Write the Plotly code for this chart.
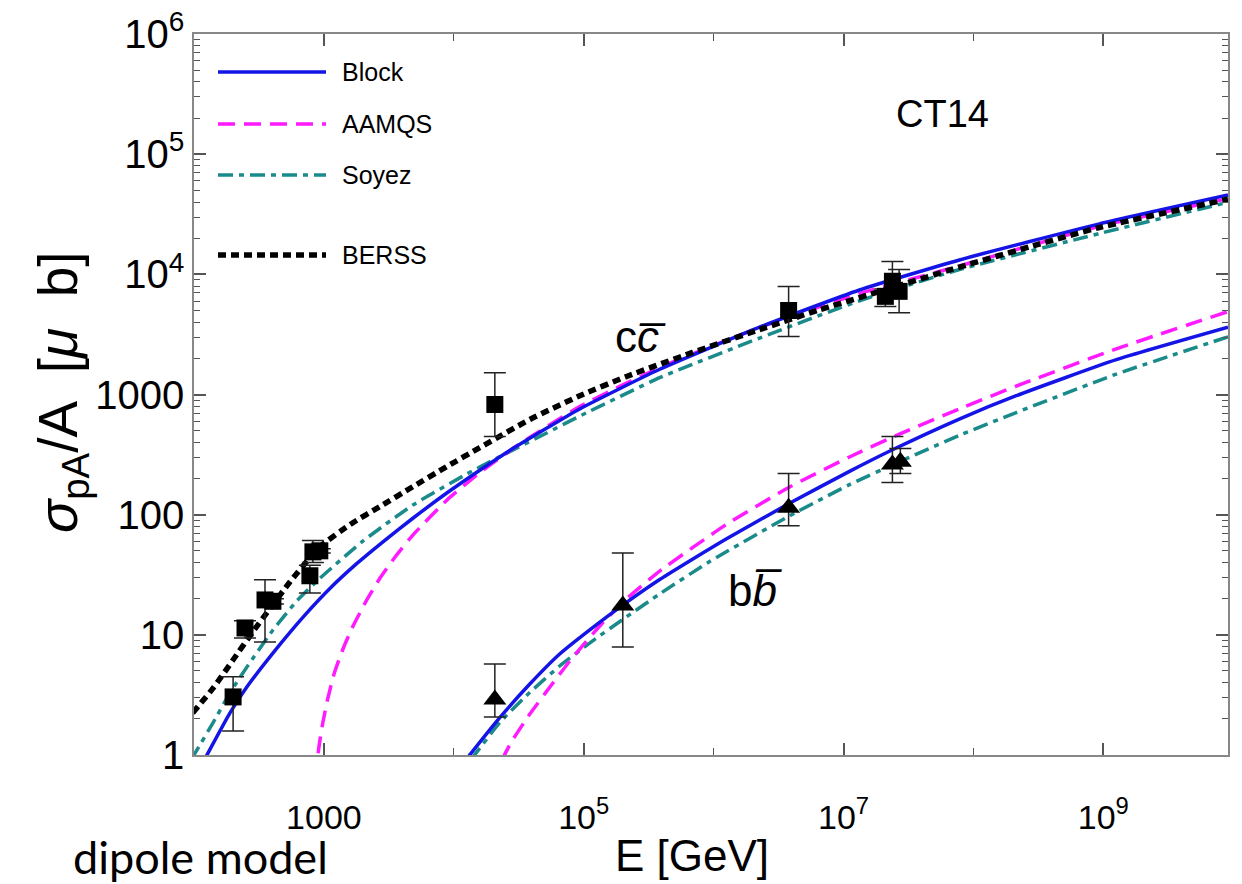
import numpy as np
import plotly.graph_objects as go

# ---------------- data (log10 values) ----------------
# c c-bar curves
block_cc_logE   = [2.0, 2.1, 2.277, 2.408, 2.662, 2.85, 3.05, 3.25, 3.45, 3.685, 3.946, 4.2, 4.454, 4.969, 5.585, 6.354, 7.123, 7.892, 8.97, 9.96]
block_cc_logS   = [-0.2, 0.0, 0.35, 0.567, 0.92, 1.16, 1.39, 1.59, 1.77, 1.97, 2.18, 2.37, 2.55, 2.88, 3.21, 3.56, 3.87, 4.12, 4.42, 4.66]

aamqs_cc_logE   = [2.946, 2.954, 2.972, 2.992, 3.03, 3.08, 3.15, 3.223, 3.33, 3.431, 3.55, 3.685, 3.946, 4.2, 4.454, 4.969, 5.585, 6.354, 7.123, 7.892, 8.97, 9.96]
aamqs_cc_logS   = [-0.2, 0.0, 0.14, 0.27, 0.47, 0.68, 0.89, 1.07, 1.29, 1.47, 1.65, 1.83, 2.12, 2.35, 2.55, 2.9, 3.225, 3.558, 3.84, 4.07, 4.4, 4.63]

soyez_cc_logE   = [1.98, 2.0, 2.023, 2.146, 2.277, 2.408, 2.608, 2.79, 2.969, 3.3, 3.685, 4.069, 4.33, 4.715, 4.969, 5.585, 6.354, 7.123, 7.892, 8.97, 9.96]
soyez_cc_logS   = [-0.04, 0.0, 0.042, 0.267, 0.517, 0.733, 1.04, 1.28, 1.47, 1.78, 2.08, 2.32, 2.47, 2.68, 2.82, 3.14, 3.47, 3.78, 4.04, 4.34, 4.60]

berss_cc_logE   = [1.99, 2.15, 2.3, 2.45, 2.6, 2.738, 2.969, 3.223, 3.431, 3.685, 3.946, 4.2, 4.585, 4.97, 5.33, 5.838, 6.354, 6.8, 7.254, 7.892, 8.5, 8.97, 9.96]
berss_cc_logS   = [0.35, 0.56, 0.79, 1.02, 1.24, 1.44, 1.733, 1.933, 2.067, 2.233, 2.4, 2.558, 2.792, 2.99, 3.15, 3.35, 3.54, 3.7, 3.85, 4.06, 4.25, 4.39, 4.625]

# b b-bar curves
block_bb_logE   = [4.08, 4.123, 4.354, 4.585, 4.815, 5.069, 5.33, 5.585, 5.869, 6.1, 6.577, 7.046, 7.377, 7.9, 8.33, 9.1, 9.96]
block_bb_logS   = [-0.06, 0.0, 0.31, 0.59, 0.84, 1.06, 1.27, 1.46, 1.65, 1.8, 2.09, 2.36, 2.54, 2.8, 2.99, 3.29, 3.56]

aamqs_bb_logE   = [4.37, 4.39, 4.45, 4.585, 4.75, 4.892, 5.0, 5.146, 5.33, 5.585, 6.1, 6.585, 7.046, 7.43, 7.892, 8.33, 9.1, 9.96]
aamqs_bb_logS   = [-0.05, 0.0, 0.12, 0.34, 0.58, 0.78, 0.92, 1.1, 1.3, 1.53, 1.92, 2.23, 2.48, 2.67, 2.88, 3.07, 3.38, 3.69]

soyez_bb_logE   = [4.13, 4.16, 4.354, 4.585, 4.815, 5.069, 5.33, 5.585, 5.97, 6.585, 7.046, 7.43, 7.892, 8.33, 9.1, 9.96]
soyez_bb_logS   = [-0.04, 0.0, 0.27, 0.52, 0.74, 0.95, 1.15, 1.34, 1.61, 1.99, 2.25, 2.44, 2.66, 2.85, 3.17, 3.48]

# measurements
cc_E        = [200, 247, 352, 405, 780, 823, 930, 2.07e4, 3.78e6, 2.1e7, 2.38e7, 2.68e7]
cc_sigma    = [3.04, 11.4, 19.5, 19.0, 31, 49, 50, 826, 5000, 6560, 8760, 7220]
cc_err_up   = [1.43, 1.7, 9.2, 1.0, 7, 12, 2, 694, 2940, 1000, 4040, 3780]
cc_err_down = [1.46, 2.0, 10.8, 1.0, 8.7, 9, 2, 379, 1960, 1150, 2000, 2440]

bb_E        = [2.07e4, 2.0e5, 3.78e6, 2.38e7, 2.74e7]
bb_sigma    = [2.9, 17.5, 114, 261, 275]
bb_err_up   = [2.8, 30.5, 106, 186, 80]
bb_err_down = [0.83, 9.6, 33, 76, 55]

x_tickvals = [1e3, 1e5, 1e7, 1e9]
x_ticktext = ["1000", "10<sup>5</sup>", "10<sup>7</sup>", "10<sup>9</sup>"]
x_minor    = [1e2, 1e4, 1e6, 1e8]
y_tickvals = [1, 10, 100, 1000, 1e4, 1e5, 1e6]
y_ticktext = ["1", "10", "100", "1000", "10<sup>4</sup>", "10<sup>5</sup>", "10<sup>6</sup>"]
y_minor    = [m * 10**k for k in range(0, 6) for m in range(2, 10)]

legend_names = ["Block", "AAMQS", "Soyez", "BERSS"]

# ---------------- styles ----------------
BLUE, MAGENTA, TEAL, BLACK = "#1414e6", "#ff1aff", "#1a8a8a", "#000000"
styles = {
    "Block": dict(color=BLUE, width=3.5, dash="solid"),
    "AAMQS": dict(color=MAGENTA, width=3.5, dash="17px,9px"),
    "Soyez": dict(color=TEAL, width=3.5, dash="15px,6px,5px,6px"),
    "BERSS": dict(color=BLACK, width=5.5, dash="8px,5px"),
}

def pw(a):
    return 10 ** np.asarray(a, dtype=float)

fig = go.Figure()
curves = [
    ("Soyez", soyez_cc_logE, soyez_cc_logS),
    ("AAMQS", aamqs_cc_logE, aamqs_cc_logS),
    ("Block", block_cc_logE, block_cc_logS),
    ("BERSS", berss_cc_logE, berss_cc_logS),
    ("Soyez", soyez_bb_logE, soyez_bb_logS),
    ("AAMQS", aamqs_bb_logE, aamqs_bb_logS),
    ("Block", block_bb_logE, block_bb_logS),
]
for name, lx, ly in curves:
    st = styles[name]
    fig.add_trace(go.Scatter(x=pw(lx), y=pw(ly), mode="lines", name=name, showlegend=False,
                             line=dict(color=st["color"], width=st["width"], dash=st["dash"],
                                       shape="spline", smoothing=0.5)))

fig.add_trace(go.Scatter(x=cc_E, y=cc_sigma, mode="markers", showlegend=False,
                         marker=dict(symbol="square", size=17, color="black"),
                         error_y=dict(type="data", array=cc_err_up, arrayminus=cc_err_down,
                                      color="#222", thickness=1.5, width=11)))
fig.add_trace(go.Scatter(x=bb_E, y=bb_sigma, mode="markers", showlegend=False,
                         marker=dict(symbol="triangle-up", size=20, color="black"),
                         error_y=dict(type="data", array=bb_err_up, arrayminus=bb_err_down,
                                      color="#222", thickness=1.5, width=11)))

# ---------------- manual legend and labels ----------------
# page body has an 8px margin: plot frame in page pixels is (194..1228, 34..755)
OFF = 8
W, H = 1242 - OFF, 884 - OFF
L, R, T, B = 194, 1228, 34, 755
def px(xp): return (xp - L) / (R - L)
def py(yp): return (B - yp) / (B - T)

legend_rows = [72, 124, 175, 255]
shapes, annos = [], []
for name, yy in zip(legend_names, legend_rows):
    st = styles[name]
    shapes.append(dict(type="line", xref="paper", yref="paper", x0=px(218), x1=px(326), y0=py(yy), y1=py(yy),
                       line=dict(color=st["color"], width=st["width"], dash=st["dash"])))
    annos.append(dict(xref="paper", yref="paper", x=px(340), y=py(yy), text=name, showarrow=False,
                      xanchor="left", yanchor="middle",
                      font=dict(family="Liberation Sans, Arial, sans-serif", size=25, color="black")))

def lab(xp, yp, text, size, family="Liberation Sans, Arial, sans-serif", **kw):
    d = dict(xref="paper", yref="paper", x=px(xp), y=py(yp), text=text, showarrow=False,
             xanchor="center", yanchor="middle", font=dict(family=family, size=size, color="black"))
    d.update(kw)
    return d

annos += [
    lab(942, 114, "CT14", 38),
    lab(640, 336, "c<i>c\u0305</i>", 44),
    lab(755, 590, "b<i>b\u0305</i>", 44),
    lab(692, 855, "E [GeV]", 44),
    lab(200, 857, "dipole model", 45, family="Lato, sans-serif"),
    lab(62, 392, "<i>σ</i><sub>pA</sub>/A  [<i>μ</i>  b]", 55, textangle=-90),
]

axis_common = dict(showgrid=False, zeroline=False, showline=True, linecolor="#888888", linewidth=1.5,
                   mirror="ticks", ticks="inside", ticklen=12, tickwidth=1.5, tickcolor="#555555",
                   automargin=False, ticklabeloverflow="allow")

fig.update_layout(
    width=W, height=H,
    margin=dict(l=L - OFF, r=W - (R - OFF), t=T - OFF, b=H - (B - OFF), autoexpand=False),
    paper_bgcolor="white", plot_bgcolor="white",
    showlegend=False,
    shapes=shapes, annotations=annos,
    xaxis=dict(type="log", range=[2, 9.96], tickvals=x_tickvals, ticktext=x_ticktext,
               tickfont=dict(family="Liberation Sans, Arial, sans-serif", size=34, color="black"),
               ticklabelstandoff=31,
               minor=dict(tickvals=x_minor, ticks="inside", ticklen=7, tickwidth=1.2, tickcolor="#555555"),
               **axis_common),
    yaxis=dict(type="log", range=[-0.0005, 6.0005], tickvals=y_tickvals, ticktext=y_ticktext,
               tickfont=dict(family="Liberation Sans, Arial, sans-serif", size=40, color="black"),
               minor=dict(tickvals=y_minor, ticks="inside", ticklen=6, tickwidth=1.2, tickcolor="#555555"),
               **axis_common),
)

fig.write_html("out.html")
